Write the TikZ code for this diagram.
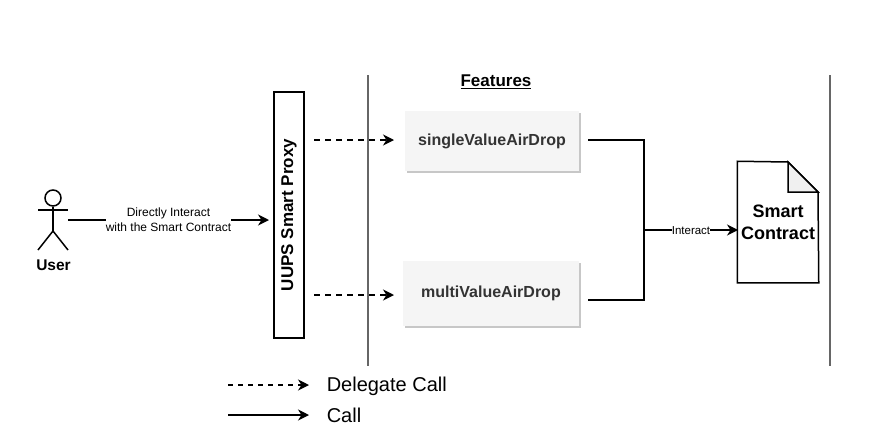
\documentclass[tikz,border=0pt]{standalone}
\usepackage{fontspec}
\setmainfont{Liberation Sans}
\usetikzlibrary{arrows.meta}

\begin{document}
\begin{tikzpicture}[x=1pt,y=-1pt,line width=1.5pt,>={Stealth[length=11pt,width=11pt,inset=3.5pt]}]
\tikzstyle{Proxy} = [rectangle, draw, fill=white, rotate=90, minimum width=246pt, minimum height=30pt, inner sep=0pt, font=\bfseries\fontsize{17}{20}\selectfont]
\tikzstyle{Feature} = [rectangle, fill=black!4, text=black!80, minimum height=60pt, inner sep=0pt, font=\bfseries\fontsize{16}{19}\selectfont, preaction={fill=black!22, transform canvas={shift={(1.5pt,-2pt)}}}]
\tikzstyle{Caption} = [inner sep=0pt, align=center, font=\fontsize{12}{15}\selectfont]
\tikzstyle{Legend} = [inner sep=0pt, anchor=west, font=\fontsize{20}{24}\selectfont]
\tikzstyle{Divider} = [draw=black!60]
\useasboundingbox (0,0) rectangle (880,442);
% actor
\node[circle, draw, fill=white, minimum size=16pt, inner sep=0pt] (Head) at (53,198){};
\coordinate (Hip) at (53,231);
\coordinate (Hand) at (68,220);
\draw (Head.south) -- (Hip);
\draw (38,210) -- (68,210);
\draw (38,250) -- (Hip) -- (68,250);
\node[inner sep=0pt, font=\bfseries\fontsize{15.5}{18}\selectfont] (User) at (53.5,265.5){User};
% boxes
\node[Proxy] (Proxy) at (289,215){UUPS Smart Proxy};
\node[Feature, minimum width=174pt] (Single) at (492,141){singleValueAirDrop};
\node[Feature, minimum width=176pt, minimum height=65pt] (Multi) at (491,293){multiValueAirDrop};
\node[inner sep=0pt, font=\bfseries\fontsize{17}{20}\selectfont] (Features) at (496,81.5){\underline{Features}};
% dividers
\coordinate (LeftTop) at (368,75);
\coordinate (LeftEnd) at (368,366);
\coordinate (RightTop) at (830,75);
\coordinate (RightEnd) at (830,366);
\draw[Divider] (LeftTop) -- (LeftEnd);
\draw[Divider] (RightTop) -- (RightEnd);
% document
\node[minimum width=80pt, minimum height=120pt, inner sep=0pt, align=center] (Contract) at (778,222){};
\draw[fill=white] (Contract.north west) -- (788,162) -- (818,192) -- (Contract.south east) -- (Contract.south west) -- cycle;
\draw[fill=black!6] (788,162) -- (788,192) -- (818,192) -- cycle;
\node[inner sep=0pt, align=center, font=\bfseries\fontsize{18}{22}\selectfont] (ContractText) at (778,222){Smart\\Contract};
% free ends of the connectors
\coordinate (ProxyTop) at (314,140);
\coordinate (ProxyLow) at (314,295);
\coordinate (SingleIn) at (394,140);
\coordinate (MultiIn) at (394,295);
\coordinate (SingleOut) at (588,140);
\coordinate (MultiOut) at (588,300);
\coordinate (Join) at (644,230);
\coordinate (ContractIn) at (738,230);
\coordinate (ProxyIn) at (269,220);
% connectors
\draw[->] (Hand) -- node[Caption, fill=white, inner ysep=1pt]{Directly Interact\\with the Smart Contract} (ProxyIn);
\draw[->,dashed,dash pattern=on 6pt off 5pt] (ProxyTop) -- (SingleIn);
\draw[->,dashed,dash pattern=on 6pt off 5pt] (ProxyLow) -- (MultiIn);
\draw (SingleOut) -| (Join);
\draw (MultiOut) -| (Join);
\draw[->] (Join) -- node[fill=white, inner sep=0pt, font=\fontsize{11.5}{13}\selectfont, pos=0.5, yshift=-1pt]{Interact} (ContractIn);
% legend
\node[Legend] (DelegateText) at (326,386){Delegate Call};
\node[Legend] (CallText) at (326,415){Call};
\coordinate (DelegateFrom) at (228,385);
\coordinate (DelegateTo) at (309,385);
\coordinate (CallFrom) at (228,415);
\coordinate (CallTo) at (309,415);
\draw[->,dashed,line width=1.2pt,dash pattern=on 5pt off 5pt] (DelegateFrom) -- (DelegateTo);
\draw[->,line width=1.2pt] (CallFrom) -- (CallTo);
\end{tikzpicture}
\end{document}
